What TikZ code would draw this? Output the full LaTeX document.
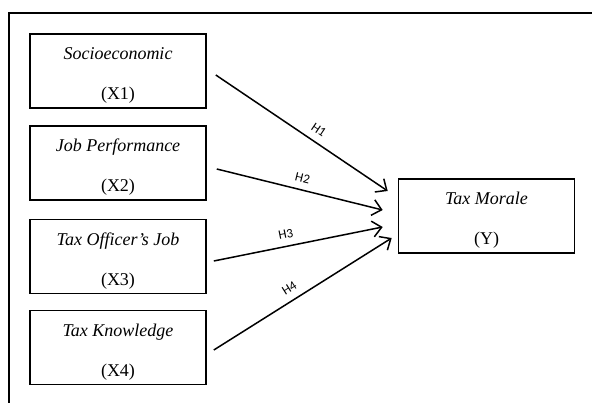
\documentclass[tikz,border=0pt]{standalone}
\usepackage{fontspec}
\setmainfont{Liberation Serif}
\newfontfamily\hfont{Carlito}
\usetikzlibrary{calc,arrows.meta}

\tikzset{
  varbox/.style={draw,line width=1.6pt,minimum width=176pt,minimum height=74pt,
    align=center,font=\fontsize{18}{40}\selectfont},
  path/.style={line width=1.5pt,-{Straight Barb[length=9pt,width=16pt,line width=1.5pt]}},
  hlabel/.style={sloped,above=6pt,inner sep=1pt,font=\hfont\fontsize{13}{14}\selectfont}
}
\newcommand{\topstrut}{\rule{0pt}{21pt}}

\begin{document}
\begin{tikzpicture}[x=1pt,y=-1pt]
\useasboundingbox (0,0) rectangle (592,402);
\draw[line width=2.6pt] (9,405) -- (9,13) -- (595,13);
\node[varbox] (x1) at (118,71) {\topstrut\textit{Socioeconomic}\\(X1)};
\node[varbox] (x2) at (118,163) {\topstrut\textit{Job Performance}\\(X2)};
\node[varbox] (x3) at (118,256.5) {\topstrut\textit{Tax Officer's Job}\\(X3)};
\node[varbox] (x4) at (118,347.5) {\topstrut\textit{Tax Knowledge}\\(X4)};
\node[varbox] (y) at (486.5,216) {\topstrut\textit{Tax Morale}\\(Y)};
\coordinate (s1) at ($(x1.east)+(9,4)$); \coordinate (e1) at ($(y.west)+(-10,-25)$);
\coordinate (s2) at ($(x2.east)+(10,6)$); \coordinate (e2) at ($(y.west)+(-15,-6)$);
\coordinate (s3) at ($(x3.east)+(7,4.5)$); \coordinate (e3) at ($(y.west)+(-15,11)$);
\coordinate (s4) at ($(x4.east)+(7,2.5)$); \coordinate (e4) at ($(y.west)+(-6,22)$);
\draw[path] (s1) -- node[hlabel,pos=0.56] {H1} (e1);
\draw[path] (s2) -- node[hlabel,pos=0.5] {H2} (e2);
\draw[path] (s3) -- node[hlabel,pos=0.44] {H3} (e3);
\draw[path] (s4) -- node[hlabel,pos=0.46] {H4} (e4);
\end{tikzpicture}
\end{document}
